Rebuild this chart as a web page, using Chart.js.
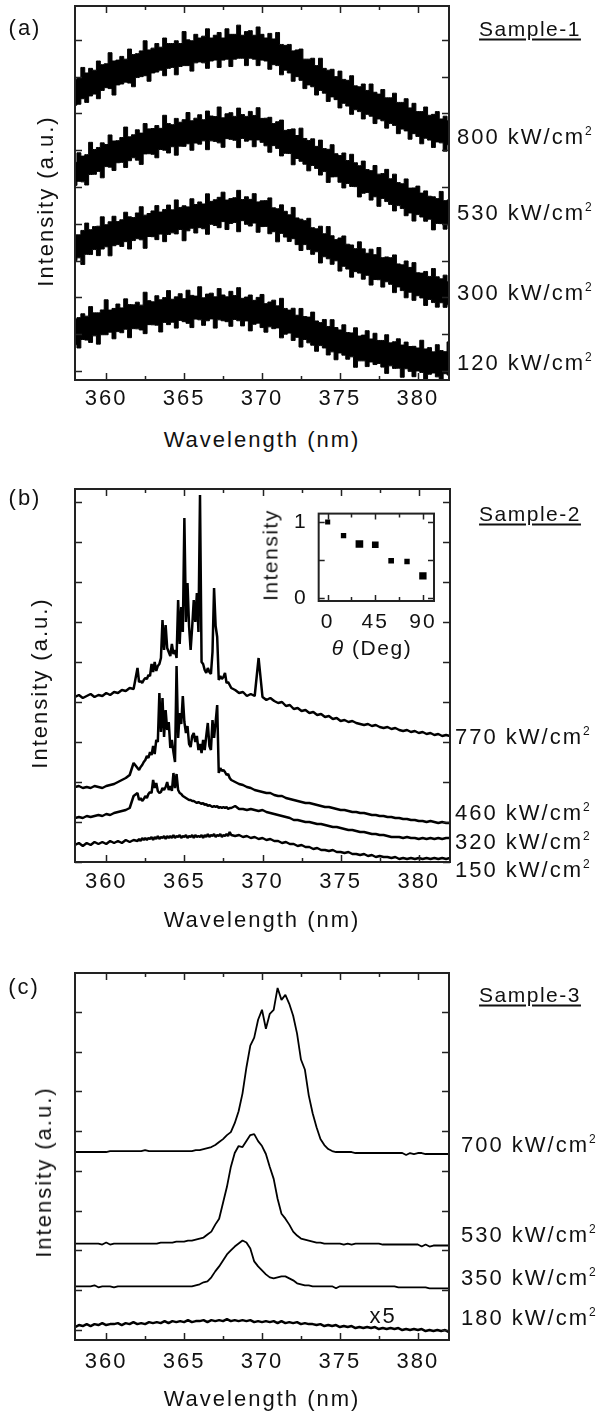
<!DOCTYPE html>
<html>
<head>
<meta charset="utf-8">
<title>PL spectra of three samples</title>
<script src="https://cdn.jsdelivr.net/npm/chart.js@4.4.1/dist/chart.umd.min.js"></script>
<style>
  body { margin: 0; background: #fff; }
  #page { position: relative; width: 613px; height: 1416px; overflow: hidden;
          font-family: "Liberation Sans", Arial, sans-serif; color: #111; }
  canvas { position: absolute; }
  .lbl { position: absolute; font-size: 22px; line-height: 1; letter-spacing: 2px; white-space: nowrap; }
  .c { transform: translate(-50%, -50%); }
  .l { transform: translateY(-50%); }
  .rot { transform: translate(-50%, -50%) rotate(-90deg); }
  .small { font-size: 21px; letter-spacing: 1.5px; }
  .sample { font-size: 21px; letter-spacing: 1.5px; text-decoration: underline; text-underline-offset: 3px; }
  sup { font-size: 12px; letter-spacing: 0; vertical-align: 9px; line-height: 0; }
</style>
</head>
<body>
<div id="page">
  <canvas id="chartA" width="613" height="420" style="left:0;top:0"></canvas>
  <canvas id="chartB" width="613" height="440" style="left:0;top:470px"></canvas>
  <canvas id="chartC" width="613" height="430" style="left:0;top:960px"></canvas>
  <canvas id="inset" width="195" height="160" style="left:255px;top:490px"></canvas>

  <!-- panel (a) -->
  <div class="lbl c" style="left:25px;top:28px">(a)</div>
  <div class="lbl c sample" style="left:530px;top:28px">Sample-1</div>
  <div class="lbl rot" style="left:46px;top:201px">Intensity (a.u.)</div>
  <div class="lbl c" style="left:262px;top:440px">Wavelength (nm)</div>
  <div class="lbl l" style="left:457px;top:137px">800 kW/cm<sup>2</sup></div>
  <div class="lbl l" style="left:457px;top:213px">530 kW/cm<sup>2</sup></div>
  <div class="lbl l" style="left:457px;top:293px">300 kW/cm<sup>2</sup></div>
  <div class="lbl l" style="left:457px;top:363px">120 kW/cm<sup>2</sup></div>

  <!-- panel (b) -->
  <div class="lbl c" style="left:25px;top:498px">(b)</div>
  <div class="lbl c sample" style="left:530px;top:513px">Sample-2</div>
  <div class="lbl rot" style="left:40px;top:683px">Intensity (a.u.)</div>
  <div class="lbl c" style="left:262px;top:920px">Wavelength (nm)</div>
  <div class="lbl l" style="left:455px;top:737px">770 kW/cm<sup>2</sup></div>
  <div class="lbl l" style="left:455px;top:813px">460 kW/cm<sup>2</sup></div>
  <div class="lbl l" style="left:455px;top:842px">320 kW/cm<sup>2</sup></div>
  <div class="lbl l" style="left:455px;top:870px">150 kW/cm<sup>2</sup></div>
  <div class="lbl rot small" style="left:270px;top:555px">Intensity</div>
  <div class="lbl c small" style="left:372px;top:647px"><i>θ</i> (Deg)</div>

  <!-- panel (c) -->
  <div class="lbl c" style="left:24px;top:987px">(c)</div>
  <div class="lbl c sample" style="left:530px;top:994px">Sample-3</div>
  <div class="lbl rot" style="left:44px;top:1172px">Intensity (a.u.)</div>
  <div class="lbl c" style="left:262px;top:1399px">Wavelength (nm)</div>
  <div class="lbl l" style="left:461px;top:1145px">700 kW/cm<sup>2</sup></div>
  <div class="lbl l" style="left:461px;top:1235px">530 kW/cm<sup>2</sup></div>
  <div class="lbl l" style="left:461px;top:1278px">350 kW/cm<sup>2</sup></div>
  <div class="lbl l" style="left:461px;top:1318px">180 kW/cm<sup>2</sup></div>
  <div class="lbl c" style="left:383px;top:1316px">x5</div>
</div>

<script>
// wavelength grid (nm) shared by panels (a) and (c)
const wl = [358,358.25,358.5,358.75,359,359.25,359.5,359.75,360,360.25,360.5,360.75,361,361.25,361.5,361.75,
  362,362.25,362.5,362.75,363,363.25,363.5,363.75,364,364.25,364.5,364.75,365,365.25,365.5,365.75,
  366,366.25,366.5,366.75,367,367.25,367.5,367.75,368,368.25,368.5,368.75,369,369.25,369.5,369.75,
  370,370.25,370.5,370.75,371,371.25,371.5,371.75,372,372.25,372.5,372.75,373,373.25,373.5,373.75,
  374,374.25,374.5,374.75,375,375.25,375.5,375.75,376,376.25,376.5,376.75,377,377.25,377.5,377.75,
  378,378.25,378.5,378.75,379,379.25,379.5,379.75,380,380.25,380.5,380.75,381,381.25,381.5,381.75,382];

// panel (a) Sample-1: upper / lower edge of each noisy trace
const a800Hi = [15.85,15.95,16.5,16.2,16.45,16.35,16.85,16.65,16.7,17.3,16.85,16.9,17.1,16.95,17.5,17.2,17.25,17.4,17.95,17.45,
  17.55,17.8,17.6,18.1,17.8,17.8,17.95,17.8,18.45,18.0,17.95,18.3,18.1,18.2,18.6,18.1,18.25,18.4,18.1,18.6,
  18.3,18.3,18.8,18.25,18.45,18.5,18.25,18.7,18.3,18.1,18.35,18.05,18.4,17.75,17.7,17.75,17.4,17.45,17.5,16.95,
  16.95,17.0,16.6,17.0,16.45,16.35,16.4,16.0,16.3,15.85,15.8,16.05,15.5,15.45,15.6,15.25,15.6,15.15,15.05,15.3,
  14.85,14.85,15.1,14.6,14.6,14.8,14.3,14.55,14.1,14.1,14.35,13.9,13.95,14.1,13.7,13.85,13.6];
const a800Lo = [14.45,14.5,14.8,14.6,14.95,15.05,14.8,15.25,15.4,15.35,15.0,15.55,15.6,15.7,15.65,15.45,15.95,16.0,16.05,15.75,
  16.2,16.25,16.35,16.05,16.45,16.5,16.1,16.55,16.6,16.6,16.3,16.75,16.8,16.75,16.45,16.85,16.9,16.5,16.9,16.95,
  16.55,16.95,17.0,17.0,16.6,17.0,16.95,16.6,16.9,16.85,16.4,16.65,16.6,16.1,16.35,16.2,15.75,16.0,15.8,15.35,
  15.55,15.45,15.0,15.25,15.1,14.65,14.9,14.75,14.3,14.55,14.4,13.95,14.2,14.1,13.7,13.95,13.85,13.45,13.7,13.6,
  13.2,13.45,13.35,12.9,13.15,13.05,12.6,12.9,12.75,12.35,12.65,12.55,12.15,12.45,12.4,11.95,12.3];
const a530Hi = [11.34,11.86,11.68,11.76,12.43,12.04,12.15,12.40,12.31,12.83,12.50,12.52,12.69,13.26,12.73,12.84,13.11,12.93,13.45,13.16,
  13.18,13.34,13.19,13.90,13.45,13.39,13.73,13.52,13.66,14.05,13.60,13.74,13.93,13.66,14.13,13.86,13.83,14.35,13.76,13.98,
  14.04,13.84,14.29,13.94,13.84,14.11,13.89,14.31,13.73,13.74,13.79,13.45,13.55,13.64,13.08,13.12,13.16,12.80,13.20,12.64,
  12.53,12.62,12.21,12.55,12.09,12.05,12.30,11.81,11.71,11.85,11.44,11.78,11.32,11.16,11.41,10.95,10.89,11.17,10.70,10.73,
  10.96,10.45,10.70,10.24,10.18,10.44,9.94,9.95,10.05,9.67,9.79,9.50,9.47,9.37,9.76,9.26,9.30];
const a530Lo = [10.09,10.31,10.28,10.11,10.68,10.69,10.85,10.50,11.11,11.08,10.90,11.32,11.34,11.06,11.43,11.59,11.46,11.23,11.80,11.81,
  11.78,11.59,12.04,12.00,11.85,12.19,11.73,12.22,12.21,12.35,12.00,12.39,12.33,12.51,12.03,12.51,12.48,12.40,12.16,12.63,
  12.59,12.54,12.14,12.64,12.49,12.56,12.19,12.56,12.43,12.24,11.89,12.25,12.10,11.69,11.83,11.82,11.21,11.55,11.40,11.24,
  10.88,11.17,11.01,10.65,10.84,10.25,10.55,10.56,10.26,9.95,10.19,10.03,10.02,9.46,9.66,9.70,9.29,9.47,8.95,9.38,
  9.21,9.05,8.70,8.99,8.83,8.44,8.59,8.15,8.50,8.37,8.14,8.25,7.67,8.02,8.01,7.71,7.95];
const a300Hi = [7.40,7.40,7.64,8.04,7.68,7.85,7.87,8.38,7.95,8.11,8.41,8.12,8.22,8.63,8.38,8.34,8.59,8.93,8.47,8.56,
  8.70,8.99,8.64,8.78,9.02,8.76,9.30,8.89,8.98,8.92,9.36,9.05,9.19,9.08,9.63,9.22,9.31,9.44,9.72,9.29,
  9.37,9.42,9.82,9.32,9.47,9.33,9.64,9.19,9.25,9.26,9.41,8.87,8.82,9.03,8.68,8.49,8.89,8.32,8.25,8.17,
  8.30,7.79,7.73,7.87,7.46,7.85,7.35,7.14,7.23,7.34,6.89,6.85,6.65,7.02,6.64,6.40,6.62,6.32,6.71,6.16,
  6.20,6.16,6.31,5.82,5.77,5.98,5.63,5.89,5.34,5.32,5.41,5.14,5.57,5.12,5.01,5.21,4.85];
const a300Lo = [6.00,6.15,5.79,6.34,6.33,6.60,6.27,6.63,6.75,6.26,6.81,6.87,6.77,7.03,6.63,7.09,7.19,7.13,6.67,7.31,
  7.30,7.14,7.44,7.03,7.42,7.51,7.45,7.69,7.08,7.62,7.76,7.50,7.79,7.73,7.43,7.97,7.91,7.79,8.12,7.69,
  8.02,8.07,7.57,8.17,7.97,7.88,8.04,7.54,7.85,7.86,7.46,7.57,7.02,7.48,7.28,7.04,7.19,6.87,6.55,6.87,
  6.60,6.34,6.48,5.87,6.21,6.10,5.80,5.99,5.43,5.69,5.54,5.10,5.40,5.32,4.99,5.20,4.67,4.97,4.96,4.56,
  4.85,4.71,4.26,4.57,4.37,3.98,4.28,3.84,4.09,3.97,3.56,3.89,3.72,3.47,3.71,3.46,3.60];
const a120Hi = [2.83,2.90,3.11,2.98,3.50,3.16,3.16,3.32,3.87,3.31,3.40,3.64,3.43,3.92,3.61,3.60,3.74,3.58,4.28,3.82,
  3.76,4.09,3.87,3.99,4.37,3.90,4.03,4.20,3.93,4.39,4.11,4.07,4.58,3.98,4.18,4.23,4.03,4.48,4.13,4.03,
  4.33,4.10,4.53,3.95,4.02,4.13,3.84,4.00,4.16,3.66,3.75,3.85,3.54,3.95,3.40,3.31,3.41,3.03,3.40,2.96,
  2.93,3.20,2.72,2.63,2.80,2.42,2.79,2.36,2.23,2.51,2.09,2.07,2.35,1.90,1.95,2.19,1.74,2.05,1.66,1.66,
  1.97,1.53,1.59,1.75,1.41,1.57,1.33,1.34,1.25,1.67,1.20,1.27,1.04,1.43,1.11,1.05,1.58];
const a120Lo = [1.43,1.25,1.71,1.68,1.55,1.91,1.46,1.97,1.97,2.11,1.75,2.14,2.08,2.27,1.81,2.30,2.29,2.23,2.03,2.52,
  2.51,2.49,2.12,2.64,2.52,2.65,2.33,2.75,2.68,2.59,2.36,2.82,2.78,2.48,2.73,2.83,2.33,2.78,2.73,2.68,
  2.43,2.80,2.73,2.45,2.72,2.18,2.54,2.60,2.36,2.11,2.40,2.30,2.34,1.80,2.00,2.06,1.66,1.83,1.30,1.71,
  1.53,1.40,1.07,1.38,1.25,0.87,1.04,0.61,0.98,0.86,0.64,0.77,0.20,0.55,0.55,0.24,0.49,0.35,0.41,0.21,
  -0.13,0.28,0.14,0.15,-0.34,0.12,-0.02,-0.31,0.00,-0.08,-0.45,-0.18,-0.11,-0.32,-0.64,-0.15,-0.22];

// panel (b) Sample-2: finer grid where the lasing peaks are
const wlB = [358,358.25,358.5,358.75,359,359.25,359.5,359.75,360,360.25,360.5,360.75,361,361.25,361.5,361.75,
  362,362.1,362.2,362.3,362.4,362.5,362.6,362.7,362.8,362.9,363,363.1,363.2,363.3,363.4,363.5,363.6,363.7,363.8,363.9,
  364,364.1,364.2,364.3,364.4,364.5,364.6,364.7,364.8,364.9,365,365.1,365.2,365.3,365.4,365.5,365.6,365.7,365.8,365.9,
  366,366.1,366.2,366.3,366.4,366.5,366.6,366.7,366.8,366.9,367,367.1,367.2,367.3,367.4,367.5,367.6,367.7,367.8,367.9,
  368,368.25,368.5,368.75,369,369.25,369.5,369.75,370,370.25,370.5,370.75,371,371.25,371.5,371.75,
  372,372.25,372.5,372.75,373,373.25,373.5,373.75,374,374.25,374.5,374.75,375,375.25,375.5,375.75,
  376,376.25,376.5,376.75,377,377.25,377.5,377.75,378,378.25,378.5,378.75,379,379.25,379.5,379.75,
  380,380.25,380.5,380.75,381,381.25,381.5,381.75,382];
const b770 = [8.25,8.35,8.2,8.3,8.4,8.25,8.35,8.3,8.45,8.35,8.5,8.45,8.6,8.55,8.7,8.65,
  9.7,9.0,9.05,8.95,9.1,9.2,9.15,9.35,9.3,9.9,
  9.5,10.0,9.55,9.8,9.9,10.2,12.1,10.6,11.85,10.7,
  10.5,10.3,10.9,10.4,10.6,10.2,13.1,10.9,12.75,11.5,
  17.2,12.0,13.95,11.8,10.6,11.75,13.1,12.0,13.45,11.5,
  18.35,10.0,9.9,9.6,9.45,9.7,9.5,9.4,10.5,13.7,
  11.8,11.25,9.1,9.3,9.15,9.25,9.45,8.95,9.0,8.85,
  8.7,8.6,8.45,8.5,8.3,8.4,8.3,10.2,8.25,8.1,8.2,8.05,7.95,8.0,7.8,7.85,
  7.65,7.7,7.55,7.6,7.45,7.5,7.35,7.4,7.25,7.3,7.15,7.2,7.05,7.1,7.0,7.05,
  6.95,6.9,6.85,6.9,6.8,6.85,6.75,6.7,6.75,6.65,6.7,6.6,6.55,6.6,6.5,6.55,
  6.45,6.5,6.4,6.45,6.35,6.4,6.3,6.35,6.3];
const b460 = [3.75,3.8,3.7,3.75,3.7,3.8,3.75,3.7,3.8,3.85,3.9,4.0,4.1,4.2,4.35,4.95,
  4.7,4.6,4.75,4.85,5.0,5.1,5.3,5.2,5.5,5.35,
  5.8,5.4,6.1,6.0,8.45,6.5,8.2,6.25,7.6,6.6,
  7.0,5.7,6.1,5.5,5.0,9.8,6.2,7.45,6.9,8.3,
  7.0,6.45,6.8,5.9,5.75,6.3,6.45,6.0,6.3,5.6,
  5.9,5.45,6.1,5.6,6.3,6.95,5.8,5.6,7.1,6.2,
  7.0,7.85,4.45,4.7,4.55,4.6,4.5,4.35,4.4,4.2,
  4.1,4.0,3.9,3.85,3.75,3.7,3.6,3.55,3.5,3.45,3.45,3.35,3.3,3.3,3.2,3.15,
  3.1,3.05,3.0,2.95,2.95,2.9,2.85,2.8,2.75,2.75,2.7,2.65,2.6,2.6,2.55,2.5,
  2.5,2.45,2.45,2.4,2.35,2.35,2.3,2.3,2.25,2.25,2.2,2.2,2.15,2.15,2.1,2.1,
  2.05,2.05,2.0,2.05,2.0,1.95,2.0,1.95,1.95];
const b320 = [2.2,2.25,2.2,2.3,2.25,2.3,2.35,2.3,2.4,2.35,2.45,2.5,2.55,2.6,2.7,3.3,
  3.45,3.1,3.2,3.05,3.15,3.3,3.2,3.4,3.5,3.45,
  4.1,3.7,3.95,3.55,3.45,3.5,3.7,3.6,3.75,4.0,
  3.6,3.8,3.55,4.45,3.7,4.4,3.6,3.45,3.4,3.3,
  3.25,3.2,3.15,3.1,3.1,3.05,3.05,3.0,2.95,3.0,
  2.95,2.9,2.95,2.85,2.9,2.8,2.85,2.8,2.75,2.8,
  2.75,2.8,2.7,2.75,2.7,2.75,2.7,2.75,2.65,2.7,
  2.7,2.8,2.65,2.65,2.6,2.65,2.6,2.55,2.6,2.5,2.45,2.4,2.35,2.3,2.25,2.2,
  2.1,2.1,2.05,2.0,2.0,1.95,1.9,1.9,1.85,1.8,1.75,1.75,1.7,1.65,1.6,1.6,
  1.55,1.5,1.5,1.45,1.4,1.4,1.35,1.35,1.3,1.25,1.25,1.25,1.2,1.25,1.2,1.2,
  1.15,1.2,1.15,1.2,1.15,1.2,1.15,1.2,1.2];
const b150 = [0.85,0.95,0.8,0.95,0.85,1.0,0.9,1.0,0.9,1.05,0.95,1.05,0.95,1.1,1.0,1.1,
  1.05,1.15,1.05,1.2,1.1,1.2,1.1,1.2,1.15,1.25,
  1.1,1.25,1.15,1.3,1.15,1.25,1.2,1.3,1.15,1.3,
  1.2,1.3,1.2,1.35,1.2,1.3,1.25,1.35,1.2,1.3,
  1.25,1.35,1.2,1.3,1.25,1.35,1.2,1.35,1.25,1.3,
  1.25,1.35,1.2,1.35,1.25,1.4,1.25,1.35,1.3,1.4,
  1.25,1.35,1.3,1.4,1.25,1.35,1.3,1.4,1.3,1.5,
  1.35,1.3,1.35,1.25,1.3,1.2,1.25,1.15,1.2,1.1,1.15,1.05,1.05,0.95,1.0,0.9,
  0.9,0.8,0.85,0.75,0.75,0.65,0.7,0.6,0.6,0.55,0.6,0.5,0.5,0.45,0.5,0.4,
  0.4,0.35,0.4,0.3,0.35,0.25,0.3,0.25,0.25,0.2,0.25,0.15,0.2,0.15,0.2,0.15,
  0.2,0.15,0.2,0.15,0.2,0.15,0.2,0.15,0.2];

// inset: peak intensity vs polarisation angle
const thetaDeg = [0, 15, 30, 45, 60, 75, 90];
const thetaInt = [1.0, 0.82, 0.71, 0.70, 0.49, 0.48, 0.29];

// panel (c) Sample-3
const c700 = [8.95,8.95,8.95,8.95,8.95,8.95,8.95,8.95,8.95,9.0,9.0,9.0,9.0,9.0,9.0,9.0,9.0,9.0,9.05,9.0,9.0,9.0,9.0,9.0,9.0,9.0,9.0,9.0,9.0,9.0,9.0,9.05,
  9.05,9.1,9.15,9.2,9.3,9.45,9.6,9.8,9.95,10.4,11.0,11.9,13.2,14.3,14.7,15.6,
  16.1,15.15,15.9,16.1,17.2,16.6,16.85,16.4,15.8,14.9,13.6,13.1,11.8,10.9,10.2,9.6,
  9.3,9.1,9.0,8.95,8.95,8.95,8.95,8.95,8.9,8.9,8.9,8.9,8.9,8.9,8.9,8.9,8.9,8.9,8.9,8.9,8.9,8.8,8.9,8.85,8.9,8.9,8.85,8.85,8.85,8.85,8.85,8.85,8.85];
const c530 = [4.35,4.35,4.35,4.35,4.35,4.35,4.35,4.3,4.4,4.3,4.35,4.35,4.35,4.35,4.35,4.35,4.35,4.35,4.35,4.35,4.35,4.35,4.4,4.4,4.4,4.4,4.45,4.45,4.45,4.5,4.5,4.55,
  4.6,4.65,4.8,4.95,5.3,5.6,6.4,7.2,8.2,8.9,9.25,9.2,9.5,9.8,9.85,9.5,
  9.25,8.85,8.2,7.6,6.6,5.85,5.6,5.3,4.95,4.75,4.6,4.55,4.5,4.45,4.4,4.4,
  4.35,4.35,4.35,4.35,4.35,4.3,4.35,4.3,4.35,4.35,4.35,4.35,4.35,4.35,4.35,4.3,4.3,4.3,4.3,4.3,4.3,4.3,4.3,4.3,4.3,4.2,4.3,4.2,4.25,4.25,4.25,4.25,4.25];
const c350 = [2.2,2.2,2.2,2.2,2.2,2.25,2.15,2.2,2.2,2.2,2.15,2.2,2.2,2.2,2.2,2.2,2.2,2.2,2.2,2.2,2.2,2.2,2.2,2.2,2.2,2.2,2.2,2.2,2.2,2.2,2.2,2.25,
  2.3,2.4,2.45,2.65,2.95,3.2,3.5,3.8,4.0,4.2,4.35,4.5,4.4,4.1,3.45,3.2,
  3.0,2.8,2.65,2.6,2.65,2.7,2.7,2.6,2.5,2.35,2.3,2.25,2.25,2.2,2.2,2.2,
  2.2,2.2,2.2,2.1,2.2,2.2,2.2,2.2,2.2,2.2,2.2,2.2,2.2,2.2,2.2,2.2,2.2,2.2,2.2,2.15,2.15,2.15,2.15,2.15,2.15,2.15,2.15,2.1,2.1,2.1,2.1,2.1,2.1];
const c180 = [0.15,0.25,0.2,0.3,0.2,0.3,0.25,0.35,0.25,0.3,0.3,0.35,0.25,0.35,0.3,0.4,0.3,0.35,0.3,0.4,
  0.35,0.4,0.35,0.45,0.35,0.45,0.4,0.45,0.4,0.5,0.4,0.45,0.45,0.5,0.4,0.5,0.45,0.5,0.45,0.55,
  0.45,0.5,0.45,0.5,0.45,0.5,0.4,0.45,0.4,0.45,0.4,0.45,0.35,0.45,0.35,0.4,0.35,0.4,0.3,0.35,
  0.3,0.3,0.25,0.3,0.2,0.25,0.2,0.25,0.15,0.2,0.15,0.2,0.1,0.15,0.1,0.15,0.1,0.15,0.05,0.1,
  0.05,0.1,0.05,0.1,0.0,0.05,0.0,0.05,0.0,0.05,-0.05,0.0,-0.05,0.0,-0.05,0.0,-0.1];

const FONT = '"Liberation Sans", Arial, sans-serif';
Chart.defaults.font.family = FONT;
Chart.defaults.font.size = 22;
Chart.defaults.color = '#111';
Chart.defaults.animation = false;

// frame box + inward tick marks on all four sides, placed from the chart's own scales
const frameTicks = {
  id: 'frameTicks',
  beforeLayout(chart) { chart.ctx.letterSpacing = '2px'; },
  beforeDraw(chart) { chart.ctx.letterSpacing = '2px'; },
  afterDatasetsDraw(chart, args, opts) {
    const { ctx, chartArea: a, scales } = chart;
    const isMajor = (v, every) => Math.abs(v / every - Math.round(v / every)) < 1e-6;
    ctx.save();
    ctx.strokeStyle = '#222';
    ctx.lineWidth = 2;
    ctx.strokeRect(a.left, a.top, a.right - a.left, a.bottom - a.top);
    ctx.lineWidth = 1.5;
    ctx.beginPath();
    scales.x.ticks.forEach(t => {
      const x = Math.round(scales.x.getPixelForValue(t.value)) + 0.5;
      const len = isMajor(t.value, opts.xEvery) ? opts.major : opts.minor;
      ctx.moveTo(x, a.bottom); ctx.lineTo(x, a.bottom - len);
      ctx.moveTo(x, a.top); ctx.lineTo(x, a.top + len);
    });
    scales.y.ticks.forEach(t => {
      const y = Math.round(scales.y.getPixelForValue(t.value)) + 0.5;
      const len = isMajor(t.value, opts.yEvery) ? opts.major : opts.minor;
      ctx.moveTo(a.left, y); ctx.lineTo(a.left + len, y);
      ctx.moveTo(a.right, y); ctx.lineTo(a.right - len, y);
    });
    ctx.stroke();
    ctx.restore();
  }
};

const xy = (xs, ys) => ys.map((y, i) => ({ x: xs[i], y }));

// a noisy trace drawn as the filled band between its two edges
function band(hi, lo) {
  return [
    { data: xy(wl, hi), borderColor: '#000', borderWidth: 1, pointRadius: 0, stepped: 'middle', fill: false },
    { data: xy(wl, lo), borderColor: '#000', borderWidth: 1, pointRadius: 0, stepped: 'middle', fill: '-1', backgroundColor: '#000' }
  ];
}

function trace(xs, ys, width) {
  return { data: xy(xs, ys), borderColor: '#000', borderWidth: width, pointRadius: 0,
           borderJoinStyle: 'bevel', fill: false };
}

function spectrumOptions(ymin, ymax, pad, tickPad) {
  return {
    responsive: false,
    layout: { padding: pad },
    plugins: {
      legend: { display: false },
      tooltip: { enabled: false },
      frameTicks: { xEvery: 5, yEvery: 2, major: 7, minor: 4 }
    },
    scales: {
      x: {
        type: 'linear', min: 358, max: 382,
        grid: { display: false, drawTicks: false },
        border: { display: false },
        ticks: { stepSize: 2.5, includeBounds: false, autoSkip: false, maxRotation: 0,
                 padding: tickPad, color: '#111',
                 callback: v => (v % 5 === 0 ? String(v) : '') }
      },
      y: { type: 'linear', display: false, min: ymin, max: ymax,
           ticks: { stepSize: 1, includeBounds: false } }
    }
  };
}

new Chart(document.getElementById('chartA'), {
  type: 'line',
  data: { datasets: [...band(a800Hi, a800Lo), ...band(a530Hi, a530Lo), ...band(a300Hi, a300Lo), ...band(a120Hi, a120Lo)] },
  options: spectrumOptions(-0.49, 19.84, { left: 75, right: 164, top: 6, bottom: 1.6 }, 6),
  plugins: [frameTicks]
});

new Chart(document.getElementById('chartB'), {
  type: 'line',
  data: { datasets: [trace(wlB, b770, 2.5), trace(wlB, b460, 2.5), trace(wlB, b320, 2.5), trace(wlB, b150, 2.5)] },
  options: spectrumOptions(0, 18.65, { left: 75, right: 163, top: 19, bottom: 7.6 }, 7),
  plugins: [frameTicks]
});

new Chart(document.getElementById('chartC'), {
  type: 'line',
  data: { datasets: [trace(wl, c700, 1.8), trace(wl, c530, 1.8), trace(wl, c350, 1.8), trace(wl, c180, 2.5)] },
  options: spectrumOptions(-0.5, 17.95, { left: 75, right: 164, top: 13, bottom: 5.6 }, 9),
  plugins: [frameTicks]
});

new Chart(document.getElementById('inset'), {
  type: 'scatter',
  data: { datasets: [{
    data: xy(thetaDeg, thetaInt),
    pointStyle: 'rect',
    pointRadius: [3.6, 3.8, 5.4, 4.7, 4.0, 3.8, 5.2],
    backgroundColor: '#000', borderWidth: 0
  }] },
  options: {
    responsive: false,
    layout: { padding: { left: 28, right: 16, top: 19, bottom: 5.8 } },
    plugins: {
      legend: { display: false },
      tooltip: { enabled: false },
      frameTicks: { xEvery: 45, yEvery: 0.5, major: 6, minor: 4 }
    },
    scales: {
      x: {
        type: 'linear', min: -8.5, max: 100.5,
        grid: { display: false, drawTicks: false },
        border: { display: false },
        ticks: { stepSize: 22.5, includeBounds: false, autoSkip: false, maxRotation: 0,
                 padding: 9, font: { size: 21 },
                 callback: v => (v % 45 === 0 ? String(v) : '') }
      },
      y: {
        type: 'linear', min: -0.04, max: 1.11,
        grid: { display: false, drawTicks: false },
        border: { display: false },
        ticks: { stepSize: 0.5, includeBounds: false, autoSkip: false, padding: 11, font: { size: 21 },
                 callback: v => (v === 0 || v === 1 ? String(v) : '') }
      }
    }
  },
  plugins: [frameTicks]
});
</script>
</body>
</html>
